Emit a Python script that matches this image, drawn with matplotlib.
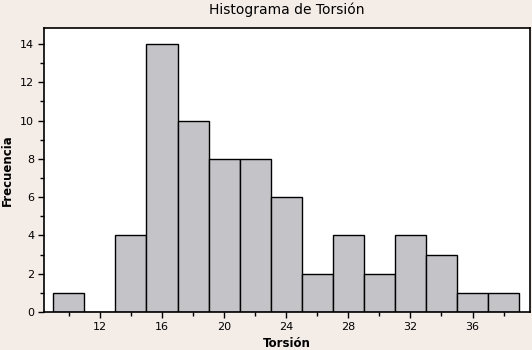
import matplotlib
matplotlib.use("Agg")
import matplotlib.pyplot as plt
from matplotlib.ticker import MultipleLocator

bin_centers = [10, 12, 14, 16, 18, 20, 22, 24, 26, 28, 30, 32, 34, 36, 38]
frequencies = [1, 0, 4, 14, 10, 8, 8, 6, 2, 4, 2, 4, 3, 1, 1]
x_ticks = [12, 16, 20, 24, 28, 32, 36]
y_ticks = [0, 2, 4, 6, 8, 10, 12, 14]

bg = "#f4ece7"
fig = plt.figure(figsize=(5.32, 3.5), dpi=100, facecolor=bg)
ax = fig.add_axes([44/532, 1-312/350, (530-44)/532, (312-28)/350])
ax.set_facecolor("white")

ax.bar(bin_centers, frequencies, width=2, color="#c4c3c8", edgecolor="black", linewidth=1.0)

ax.set_xlim(8.4, 39.7)
ax.set_ylim(0, 14.84)
ax.set_xticks(x_ticks)
ax.set_yticks(y_ticks)
ax.xaxis.set_minor_locator(MultipleLocator(2))
ax.yaxis.set_minor_locator(MultipleLocator(1))
ax.tick_params(axis="both", which="major", length=4, width=1, labelsize=8, direction="out", pad=3)
ax.tick_params(axis="both", which="minor", length=3, width=1, direction="out")
for s in ax.spines.values():
    s.set_linewidth(1.2)

ax.set_title("Histograma de Torsión", fontsize=10, pad=10)
ax.set_xlabel("Torsión", fontsize=8.5, fontweight="bold", labelpad=4)
ax.set_ylabel("Frecuencia", fontsize=8.5, fontweight="bold")
ax.yaxis.set_label_coords(-0.062, 0.5)

fig.savefig("out.png", dpi=100, facecolor=bg)
